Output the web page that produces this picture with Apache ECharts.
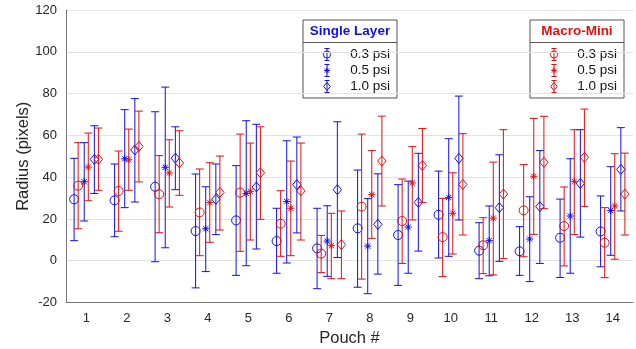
<!DOCTYPE html>
<html>
<head>
<meta charset="utf-8">
<script src="https://cdn.jsdelivr.net/npm/echarts@6/dist/echarts.min.js"></script>
<style>
  html, body { margin: 0; padding: 0; background: #fff; }
  #chart { width: 636px; height: 349px; }
</style>
</head>
<body>
<div id="chart"></div>
<script>
// pouch categories
var pouches = ['1','2','3','4','5','6','7','8','9','10','11','12','13','14'];

// Single Layer 0.3 psi (blue circle)
var sl03Mean = [29.4, 28.9, 35.4, 14.2, 19.3, 9.4, 5.9, 15.5, 12.3, 22.0, 4.8, 4.5, 11.0, 14.0];
var sl03High = [49.0, 46.3, 71.3, 41.5, 45.5, 25.1, 25.1, 43.4, 36.4, 42.9, 18.2, 16.3, 29.5, 31.0];
var sl03Low  = [9.6, 11.5, -0.5, -13.0, -7.0, -6.0, -13.4, -12.7, -11.8, 1.3, -8.6, -7.0, -8.0, -2.9];

// Macro-Mini 0.3 psi (red circle)
var mm03Mean = [35.9, 33.4, 31.8, 23.1, 32.6, 17.7, 3.4, 25.9, 19.0, 11.3, 7.4, 24.1, 16.6, 8.6];
var mm03High = [56.5, 52.5, 50.3, 43.9, 60.6, 33.5, 12.1, 60.6, 39.1, 29.8, 20.6, 46.0, 35.3, 25.4];
var mm03Low  = [15.3, 14.1, 13.4, 2.4, 4.5, 2.1, -5.7, -8.8, -1.3, -7.6, -6.2, 1.9, -2.5, -8.1];

// Single Layer 0.5 psi (blue asterisk)
var sl05Mean = [37.8, 48.8, 44.7, 15.3, 32.2, 28.3, 9.4, 7.0, 16.1, 30.3, 9.6, 10.4, 21.4, 24.0];
var sl05High = [56.5, 72.3, 83.1, 35.4, 67.0, 57.4, 26.3, 29.7, 38.1, 58.4, 26.2, 30.6, 48.8, 45.0];
var sl05Low  = [19.0, 25.4, 6.2, -5.2, -2.4, -1.1, -7.5, -15.8, -6.0, 2.1, -7.2, -10.0, -6.0, 2.6];

// Macro-Mini 0.5 psi (red asterisk)
var mm05Mean = [44.8, 48.3, 42.0, 27.8, 33.2, 25.1, 7.2, 31.6, 37.2, 22.7, 20.4, 40.4, 38.0, 26.2];
var mm05High = [61.1, 63.0, 57.9, 46.9, 56.3, 47.7, 22.7, 52.7, 54.6, 42.1, 47.2, 68.1, 62.7, 51.2];
var mm05Low  = [28.7, 33.7, 25.7, 8.8, 9.9, 2.4, -8.6, 10.7, 19.5, 3.2, -6.8, 12.6, 12.5, 0.7];

// Single Layer 1.0 psi (blue diamond)
var sl10Mean = [48.5, 53.0, 49.1, 29.4, 35.3, 36.4, 34.0, 17.4, 27.9, 49.0, 25.4, 25.9, 37.0, 43.7];
var sl10High = [64.6, 77.6, 64.1, 46.3, 65.3, 59.2, 66.5, 41.6, 51.4, 78.8, 50.7, 52.7, 62.7, 63.7];
var sl10Low  = [32.2, 28.1, 34.0, 12.5, 5.6, 13.3, 1.5, -6.4, 4.6, 19.5, -0.3, -1.3, 11.3, 23.8];

// Macro-Mini 1.0 psi (red diamond)
var mm10Mean = [48.5, 54.7, 46.8, 32.7, 42.1, 33.4, 7.7, 47.7, 45.6, 36.5, 31.9, 47.1, 49.5, 31.9];
var mm10High = [63.5, 71.6, 62.2, 50.1, 64.1, 56.3, 23.8, 69.2, 63.3, 60.8, 62.7, 69.1, 72.6, 51.5];
var mm10Low  = [33.7, 37.7, 31.3, 14.7, 19.8, 9.9, -8.6, 26.2, 27.8, 12.3, 1.0, 24.9, 26.0, 12.3];

var BLUE = '#1010e6';
var RED = '#e01010';
var FONT = 'Liberation Sans';

var chart = echarts.init(document.getElementById('chart'));

// marker shapes, k scales the size (legend uses smaller ones)
function marker(shape, x, y, color, k) {
    k = k || 1;
    var st = {fill: 'none', stroke: color, lineWidth: 1};
    if (shape === 'circle') {
        return {type: 'circle', shape: {cx: x, cy: y, r: 4.5 * k}, style: st};
    }
    if (shape === 'diamond') {
        return {type: 'polygon', shape: {points: [[x, y - 5 * k], [x + 4.2 * k, y], [x, y + 5 * k], [x - 4.2 * k, y]]}, style: st};
    }
    // asterisk
    var r = 3.6 * k, d = 2.6 * k;
    return {type: 'group', children: [
        {type: 'line', shape: {x1: x, y1: y - r, x2: x, y2: y + r}, style: st},
        {type: 'line', shape: {x1: x - r, y1: y, x2: x + r, y2: y}, style: st},
        {type: 'line', shape: {x1: x - d, y1: y - d, x2: x + d, y2: y + d}, style: st},
        {type: 'line', shape: {x1: x - d, y1: y + d, x2: x + d, y2: y - d}, style: st}
    ]};
}

function errorBar(x, yTop, yBot, cap, color) {
    var st = {stroke: color, lineWidth: 1};
    return [
        {type: 'line', shape: {x1: x, y1: yTop, x2: x, y2: yBot}, style: st},
        {type: 'line', shape: {x1: x - cap, y1: yTop, x2: x + cap, y2: yTop}, style: st},
        {type: 'line', shape: {x1: x - cap, y1: yBot, x2: x + cap, y2: yBot}, style: st}
    ];
}

function makeSeries(name, mean, low, high, offset, shape, color) {
    var data = [];
    for (var i = 0; i < mean.length; i++) {
        data.push([i, mean[i], low[i], high[i]]);
    }
    return {
        name: name,
        type: 'custom',
        data: data,
        encode: {x: 0, y: [1, 2, 3]},
        renderItem: function(params, api) {
            var idx = api.value(0);
            var band = api.size([1, 0])[0];
            var c = api.coord([idx, api.value(1)]);
            var lo = api.coord([idx, api.value(2)]);
            var hi = api.coord([idx, api.value(3)]);
            var x = c[0] + offset * band;
            var kids = errorBar(x, hi[1], lo[1], 4, color);
            kids.push(marker(shape, x, c[1], color));
            return {type: 'group', children: kids};
        }
    };
}

// legend box drawn with graphic elements
function legendBox(left, title, color) {
    var w = 94, top = 20, h = 78;
    var items = ['0.3 psi', '0.5 psi', '1.0 psi'];
    var shapes = ['circle', 'asterisk', 'diamond'];
    var kids = [
        {type: 'rect', shape: {x: left, y: top, width: w, height: h}, style: {fill: '#fff', stroke: '#555', lineWidth: 1}},
        {type: 'line', shape: {x1: left, y1: top + 22.5, x2: left + w, y2: top + 22.5}, style: {stroke: '#555', lineWidth: 1}},
        {type: 'text', x: left + w / 2, y: top + 11.5, style: {text: title, fill: color, font: 'bold 13.5px ' + FONT, align: 'center', verticalAlign: 'middle'}}
    ];
    for (var i = 0; i < 3; i++) {
        var yy = top + 34.5 + i * 16;
        var ix = left + 24;
        kids = kids.concat(errorBar(ix, yy - 6, yy + 6, 2.5, color));
        kids.push(marker(shapes[i], ix, yy, color, 0.8));
        kids.push({type: 'text', x: left + w - 7, y: yy, style: {text: items[i], fill: '#111', font: '13.5px ' + FONT, align: 'right', verticalAlign: 'middle'}});
    }
    return {type: 'group', z: 100, children: kids};
}

var option = {
    animation: false,
    backgroundColor: '#fff',
    grid: {left: 66, right: 3, top: 10, bottom: 46.5, outerBoundsMode: 'none'},
    xAxis: {
        type: 'category',
        data: pouches,
        name: 'Pouch #',
        nameLocation: 'middle',
        nameGap: 27,
        nameMoveOverlap: false,
        nameTextStyle: {fontFamily: FONT, fontSize: 16.5, color: '#262626'},
        axisLine: {onZero: false, lineStyle: {color: '#777', width: 1}},
        axisTick: {show: false},
        axisLabel: {fontFamily: FONT, fontSize: 13, color: '#262626', margin: 9},
        splitLine: {show: false}
    },
    yAxis: {
        type: 'value',
        min: -20,
        max: 120,
        interval: 20,
        name: 'Radius (pixels)',
        nameLocation: 'middle',
        nameGap: 34,
        nameMoveOverlap: false,
        nameTextStyle: {fontFamily: FONT, fontSize: 16.5, color: '#262626'},
        axisLine: {show: true, lineStyle: {color: '#777', width: 1}},
        axisTick: {show: false},
        axisLabel: {fontFamily: FONT, fontSize: 13, color: '#262626', margin: 9},
        splitLine: {show: true, lineStyle: {color: '#e3e3e3', width: 1}}
    },
    series: [
        makeSeries('Single Layer 0.3 psi', sl03Mean, sl03Low, sl03High, -0.3, 'circle', BLUE),
        makeSeries('Macro-Mini 0.3 psi', mm03Mean, mm03Low, mm03High, -0.2, 'circle', RED),
        makeSeries('Single Layer 0.5 psi', sl05Mean, sl05Low, sl05High, -0.05, 'asterisk', BLUE),
        makeSeries('Macro-Mini 0.5 psi', mm05Mean, mm05Low, mm05High, 0.05, 'asterisk', RED),
        makeSeries('Single Layer 1.0 psi', sl10Mean, sl10Low, sl10High, 0.2, 'diamond', BLUE),
        makeSeries('Macro-Mini 1.0 psi', mm10Mean, mm10Low, mm10High, 0.3, 'diamond', RED)
    ],
    graphic: [
        legendBox(303, 'Single Layer', BLUE),
        legendBox(530, 'Macro-Mini', RED)
    ]
};

chart.setOption(option);
</script>
</body>
</html>
